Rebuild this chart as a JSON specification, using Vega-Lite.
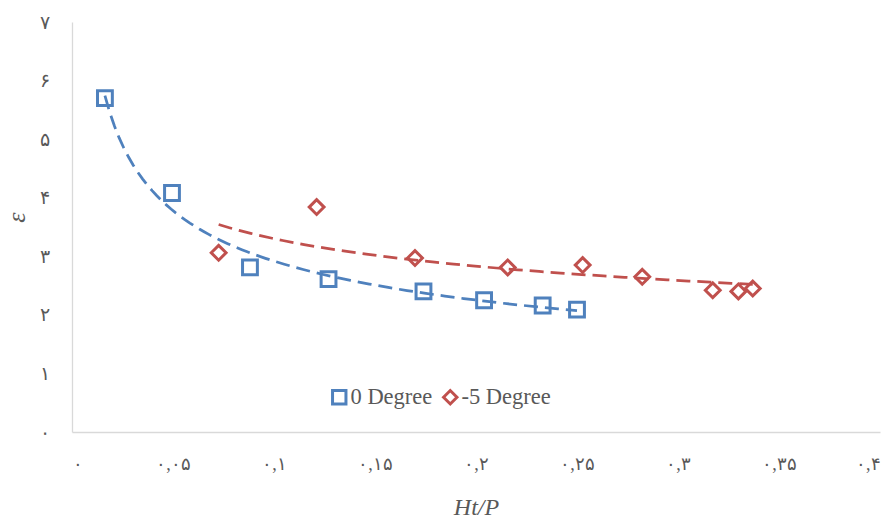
{
  "$schema": "https://vega.github.io/schema/vega-lite/v6.json",
  "width": 808,
  "height": 410,
  "autosize": {"type": "none"},
  "padding": {"left": 72, "top": 22, "right": 11, "bottom": 87},
  "background": "white",
  "config": {
    "view": {"stroke": null},
    "legend": {
      "orient": "none", "direction": "horizontal", "title": null,
      "legendX": 256, "legendY": 364,
      "labelFont": "Liberation Serif", "labelFontSize": 22.5, "labelColor": "#595959",
      "symbolStrokeWidth": 3, "symbolSize": 180, "labelOffset": 0, "columnPadding": 4
    }
  },
  "data": {"values": [
    {"series": "0 Degree", "x": 0.0163, "y": 5.70},
    {"series": "0 Degree", "x": 0.0495, "y": 4.08},
    {"series": "0 Degree", "x": 0.0881, "y": 2.81},
    {"series": "0 Degree", "x": 0.127, "y": 2.61},
    {"series": "0 Degree", "x": 0.174, "y": 2.40},
    {"series": "0 Degree", "x": 0.204, "y": 2.25},
    {"series": "0 Degree", "x": 0.233, "y": 2.16},
    {"series": "0 Degree", "x": 0.250, "y": 2.09},
    {"series": "-5 Degree", "x": 0.0726, "y": 3.06},
    {"series": "-5 Degree", "x": 0.1211, "y": 3.84},
    {"series": "-5 Degree", "x": 0.1698, "y": 2.97},
    {"series": "-5 Degree", "x": 0.2157, "y": 2.81},
    {"series": "-5 Degree", "x": 0.2528, "y": 2.85},
    {"series": "-5 Degree", "x": 0.2823, "y": 2.65},
    {"series": "-5 Degree", "x": 0.3172, "y": 2.42},
    {"series": "-5 Degree", "x": 0.3299, "y": 2.40},
    {"series": "-5 Degree", "x": 0.337, "y": 2.45}
  ]},
  "layer": [
    {
      "transform": [
        {"filter": "datum.series === '0 Degree'"},
        {"regression": "y", "on": "x", "method": "pow"}
      ],
      "mark": {"type": "line", "strokeDash": [14, 7], "strokeWidth": 2.75, "color": "#4F81BD"},
      "encoding": {
        "x": {"field": "x", "type": "quantitative"},
        "y": {"field": "y", "type": "quantitative"}
      }
    },
    {
      "transform": [
        {"filter": "datum.series === '-5 Degree'"},
        {"regression": "y", "on": "x", "method": "pow"}
      ],
      "mark": {"type": "line", "strokeDash": [14, 7], "strokeWidth": 2.75, "color": "#C0504D"},
      "encoding": {
        "x": {"field": "x", "type": "quantitative"},
        "y": {"field": "y", "type": "quantitative"}
      }
    },
    {
      "mark": {"type": "point", "filled": false, "strokeWidth": 3, "opacity": 1},
      "encoding": {
        "x": {
          "field": "x", "type": "quantitative",
          "scale": {"domain": [0, 0.4], "nice": false},
          "axis": {
            "values": [0, 0.05, 0.1, 0.15, 0.2, 0.25, 0.3, 0.35, 0.4],
            "labelExpr": "replace(replace(replace(replace(replace(replace(replace(replace(format(datum.value, '.2~f'), regexp('0','g'), '۰'), regexp('1','g'), '۱'), regexp('2','g'), '۲'), regexp('3','g'), '۳'), regexp('4','g'), '۴'), regexp('5','g'), '۵'), regexp('[.]','g'), ','), regexp('6','g'), '۶')",
            "grid": false, "ticks": false,
            "domainColor": "#d9d9d9", "domainWidth": 1.3,
            "labelFont": "Liberation Serif", "labelFontSize": 18, "labelColor": "#595959",
            "labelPadding": 23,
            "title": "Ht/P", "titleFont": "Liberation Serif", "titleFontStyle": "italic", "titleFontWeight": "normal",
            "titleFontSize": 24, "titleColor": "#595959", "titleY": 82, "titleBaseline": "alphabetic"
          }
        },
        "y": {
          "field": "y", "type": "quantitative",
          "scale": {"domain": [0, 7], "nice": false},
          "axis": {
            "values": [0, 1, 2, 3, 4, 5, 6, 7],
            "labelExpr": "replace(replace(replace(replace(replace(replace(replace(replace(format(datum.value, 'd'), regexp('0','g'), '۰'), regexp('1','g'), '۱'), regexp('2','g'), '۲'), regexp('3','g'), '۳'), regexp('4','g'), '۴'), regexp('5','g'), '۵'), regexp('6','g'), '۶'), regexp('7','g'), '۷')",
            "grid": false, "ticks": false,
            "domainColor": "#d9d9d9", "domainWidth": 1.3,
            "labelFont": "Liberation Serif", "labelFontSize": 19, "labelColor": "#595959",
            "labelPadding": 23,
            "title": "ε", "titleFont": "Liberation Serif", "titleFontStyle": "italic", "titleFontWeight": "normal",
            "titleFontSize": 26, "titleColor": "#595959", "titleX": -56, "titleY": 195, "titleAngle": 270, "titleBaseline": "middle", "titleAlign": "center"
          }
        },
        "color": {
          "field": "series", "type": "nominal",
          "scale": {"domain": ["0 Degree", "-5 Degree"], "range": ["#4F81BD", "#C0504D"]}
        },
        "shape": {
          "field": "series", "type": "nominal",
          "scale": {"domain": ["0 Degree", "-5 Degree"], "range": ["square", "diamond"]}
        },
        "size": {"value": 220}
      }
    }
  ]
}
